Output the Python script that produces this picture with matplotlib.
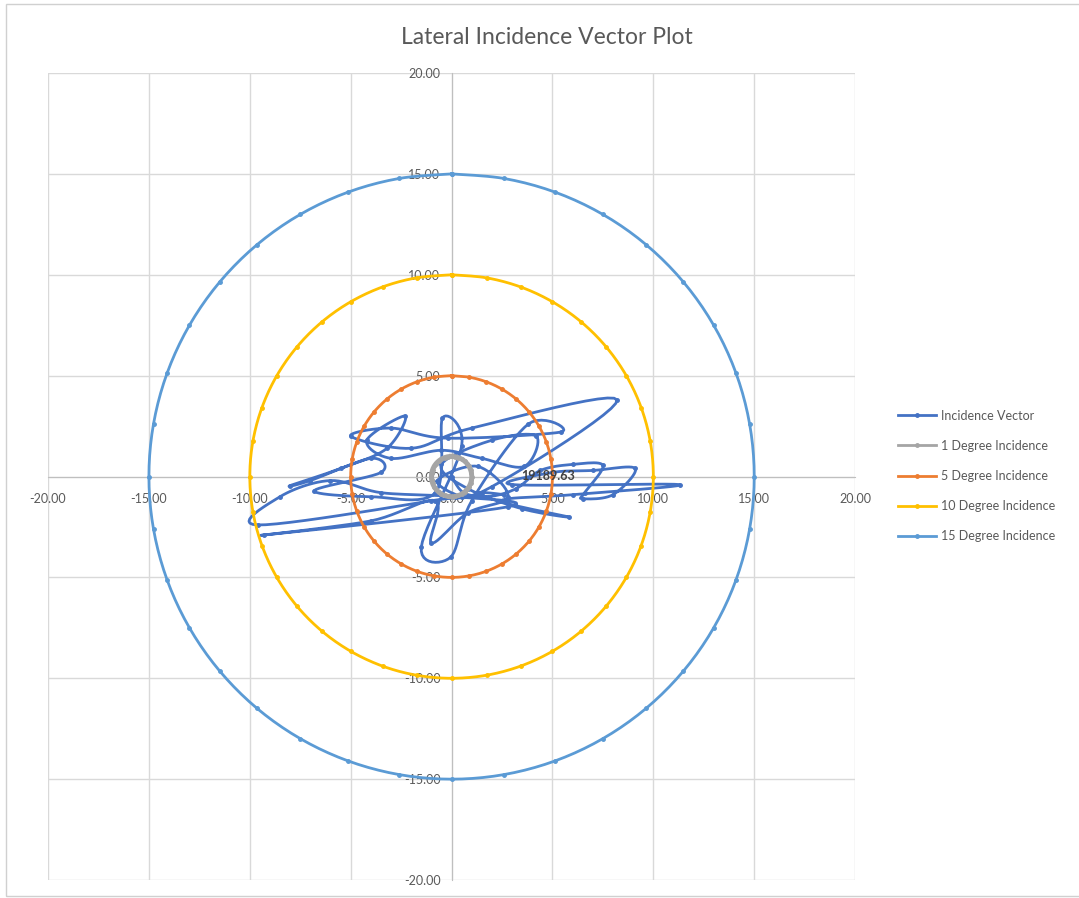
import numpy as np
import matplotlib.pyplot as plt
from matplotlib.patches import Rectangle

plt.rcParams['font.family'] = ['Lato', 'DejaVu Sans']

# 入射向量轨迹 (x, y)
vec_x = [0.0, 0.6, 1.8, 3.2, 4.4, 6.0, 7.5, 6.6, 6.5, 8.0, 9.1, 7.0, 5.0, 3.0, 11.3,
         6.0, 2.5, 5.8, 3.5, 0.8, -0.5, 2.0, 4.2, 3.6, 1.5, -0.5, -3.0, -4.2, -2.3,
         -3.2, -5.5, -8.0, -7.0, -4.0, -3.5, -6.8, -4.0, -0.8, -0.45, 0.5, -1.5,
         -0.05, 1.0, 3.8, 5.4, -0.2, -3.0, -5.0, -2.0, 1.0, 8.2, 2.0, -1.0, -9.6,
         -8.5, -6.0, -3.5, 0.2, 2.8, -9.3, -4.0, -0.8, -1.0, 0.8, 2.8, 1.3, -0.7,
         0.5, 1.5, 2.6]
vec_y = [0.0, -0.8, -1.0, -0.6, 0.3, 0.6, 0.55, -0.8, -1.1, -0.9, 0.4, 0.3, 0.2,
         -0.4, -0.4, -0.9, -1.2, -2.0, -1.6, -0.6, 0.6, 1.8, 2.0, 0.5, 0.9, 1.3,
         0.9, 1.8, 3.0, 1.4, 0.4, -0.45, -0.2, 0.9, 0.2, -0.7, -1.0, -0.8, 2.9,
         1.5, -3.5, -4.0, -1.2, 2.6, 2.2, 1.9, 2.4, 2.0, 1.4, 2.4, 3.8, -0.5, -1.2,
         -2.4, -1.0, -0.2, -0.8, -1.0, -1.5, -2.9, -2.2, -1.2, -3.3, -1.8, -1.0,
         0.5, -0.2, -1.0, -0.8, -0.9]

# 入射角圆
radii = [1, 5, 10, 15]
circle_names = ['1 Degree Incidence', '5 Degree Incidence',
                '10 Degree Incidence', '15 Degree Incidence']
circle_colors = ['#A5A5A5', '#ED7D31', '#FFC000', '#5B9BD5']
angles = np.arange(0, 361, 10)

ticks = [-20, -15, -10, -5, 0, 5, 10, 15, 20]
label_text = '19189.63'


# Excel 平滑线 (Catmull-Rom)
def smooth_line(x, y, n=12):
    p = np.column_stack([x, y])
    p = np.vstack([p[0], p, p[-1]])
    out = []
    s = np.linspace(0, 1, n, endpoint=False)[:, None]
    for i in range(1, len(p) - 2):
        p0, p1, p2, p3 = p[i - 1], p[i], p[i + 1], p[i + 2]
        seg = 0.5 * ((2 * p1) + (-p0 + p2) * s + (2 * p0 - 5 * p1 + 4 * p2 - p3) * s ** 2
                     + (-p0 + 3 * p1 - 3 * p2 + p3) * s ** 3)
        out.append(seg)
    out.append(p[-2][None, :])
    out = np.vstack(out)
    return out[:, 0], out[:, 1]


fig = plt.figure(figsize=(10.79, 8.98), dpi=100)
fig.patches.append(Rectangle((0.006, 0.002), 1.2, 0.994, transform=fig.transFigure,
                             fill=False, edgecolor='#D0D0D0', lw=1))
ax = fig.add_axes([0.0445, 0.02, 0.748, 0.8987])

sx, sy = smooth_line(vec_x, vec_y)
ax.plot(sx, sy, color='#4472C4', lw=2, zorder=3)
ax.plot(vec_x, vec_y, ls='none', color='#4472C4', marker='o', ms=2.5, zorder=3)
ax.plot([], [], color='#4472C4', lw=2, marker='o', ms=2.5, label='Incidence Vector')

for r, name, c in zip(radii, circle_names, circle_colors):
    t = np.deg2rad(angles)
    cx, cy = smooth_line(r * np.sin(t), r * np.cos(t), n=10)
    lw = 3.5 if r == 1 else 2
    ax.plot(cx, cy, color=c, lw=lw, zorder=4)
    ax.plot(r * np.sin(t), r * np.cos(t), ls='none', color=c, marker='o', ms=2.5,
            zorder=4)
    ax.plot([], [], color=c, lw=2, marker='o', ms=2.5, label=name)

ax.text(4.8, 0.05, label_text, ha='center', va='center', fontsize=9,
        fontweight='bold', color='#404040', zorder=6)

ax.set_xlim(-20, 20)
ax.set_ylim(-20, 20)
ax.set_xticks(ticks)
ax.set_yticks(ticks)
ax.set_xticklabels([f'{v:.2f}' for v in ticks])
ax.set_yticklabels([f'{v:.2f}' for v in ticks])
ax.grid(True, color='#D9D9D9', lw=1)
ax.set_axisbelow(True)
for s in ['top', 'right']:
    ax.spines[s].set_visible(False)
ax.spines['left'].set_position(('data', 0))
ax.spines['bottom'].set_position(('data', 0))
ax.spines['left'].set_color('#BFBFBF')
ax.spines['bottom'].set_color('#BFBFBF')
ax.tick_params(length=0, labelsize=9, labelcolor='#595959')
ax.tick_params(axis='x', pad=12)
ax.tick_params(axis='y', pad=8)

fig.suptitle('Lateral Incidence Vector Plot', x=0.507, y=0.97, fontsize=16.5,
             color='#595959')

fig.legend(loc='center left', bbox_to_anchor=(0.822, 0.47), frameon=False,
           fontsize=9, handlelength=3, handletextpad=0.4, labelspacing=1.45,
           labelcolor='#595959')

fig.savefig('out.png', dpi=100)
